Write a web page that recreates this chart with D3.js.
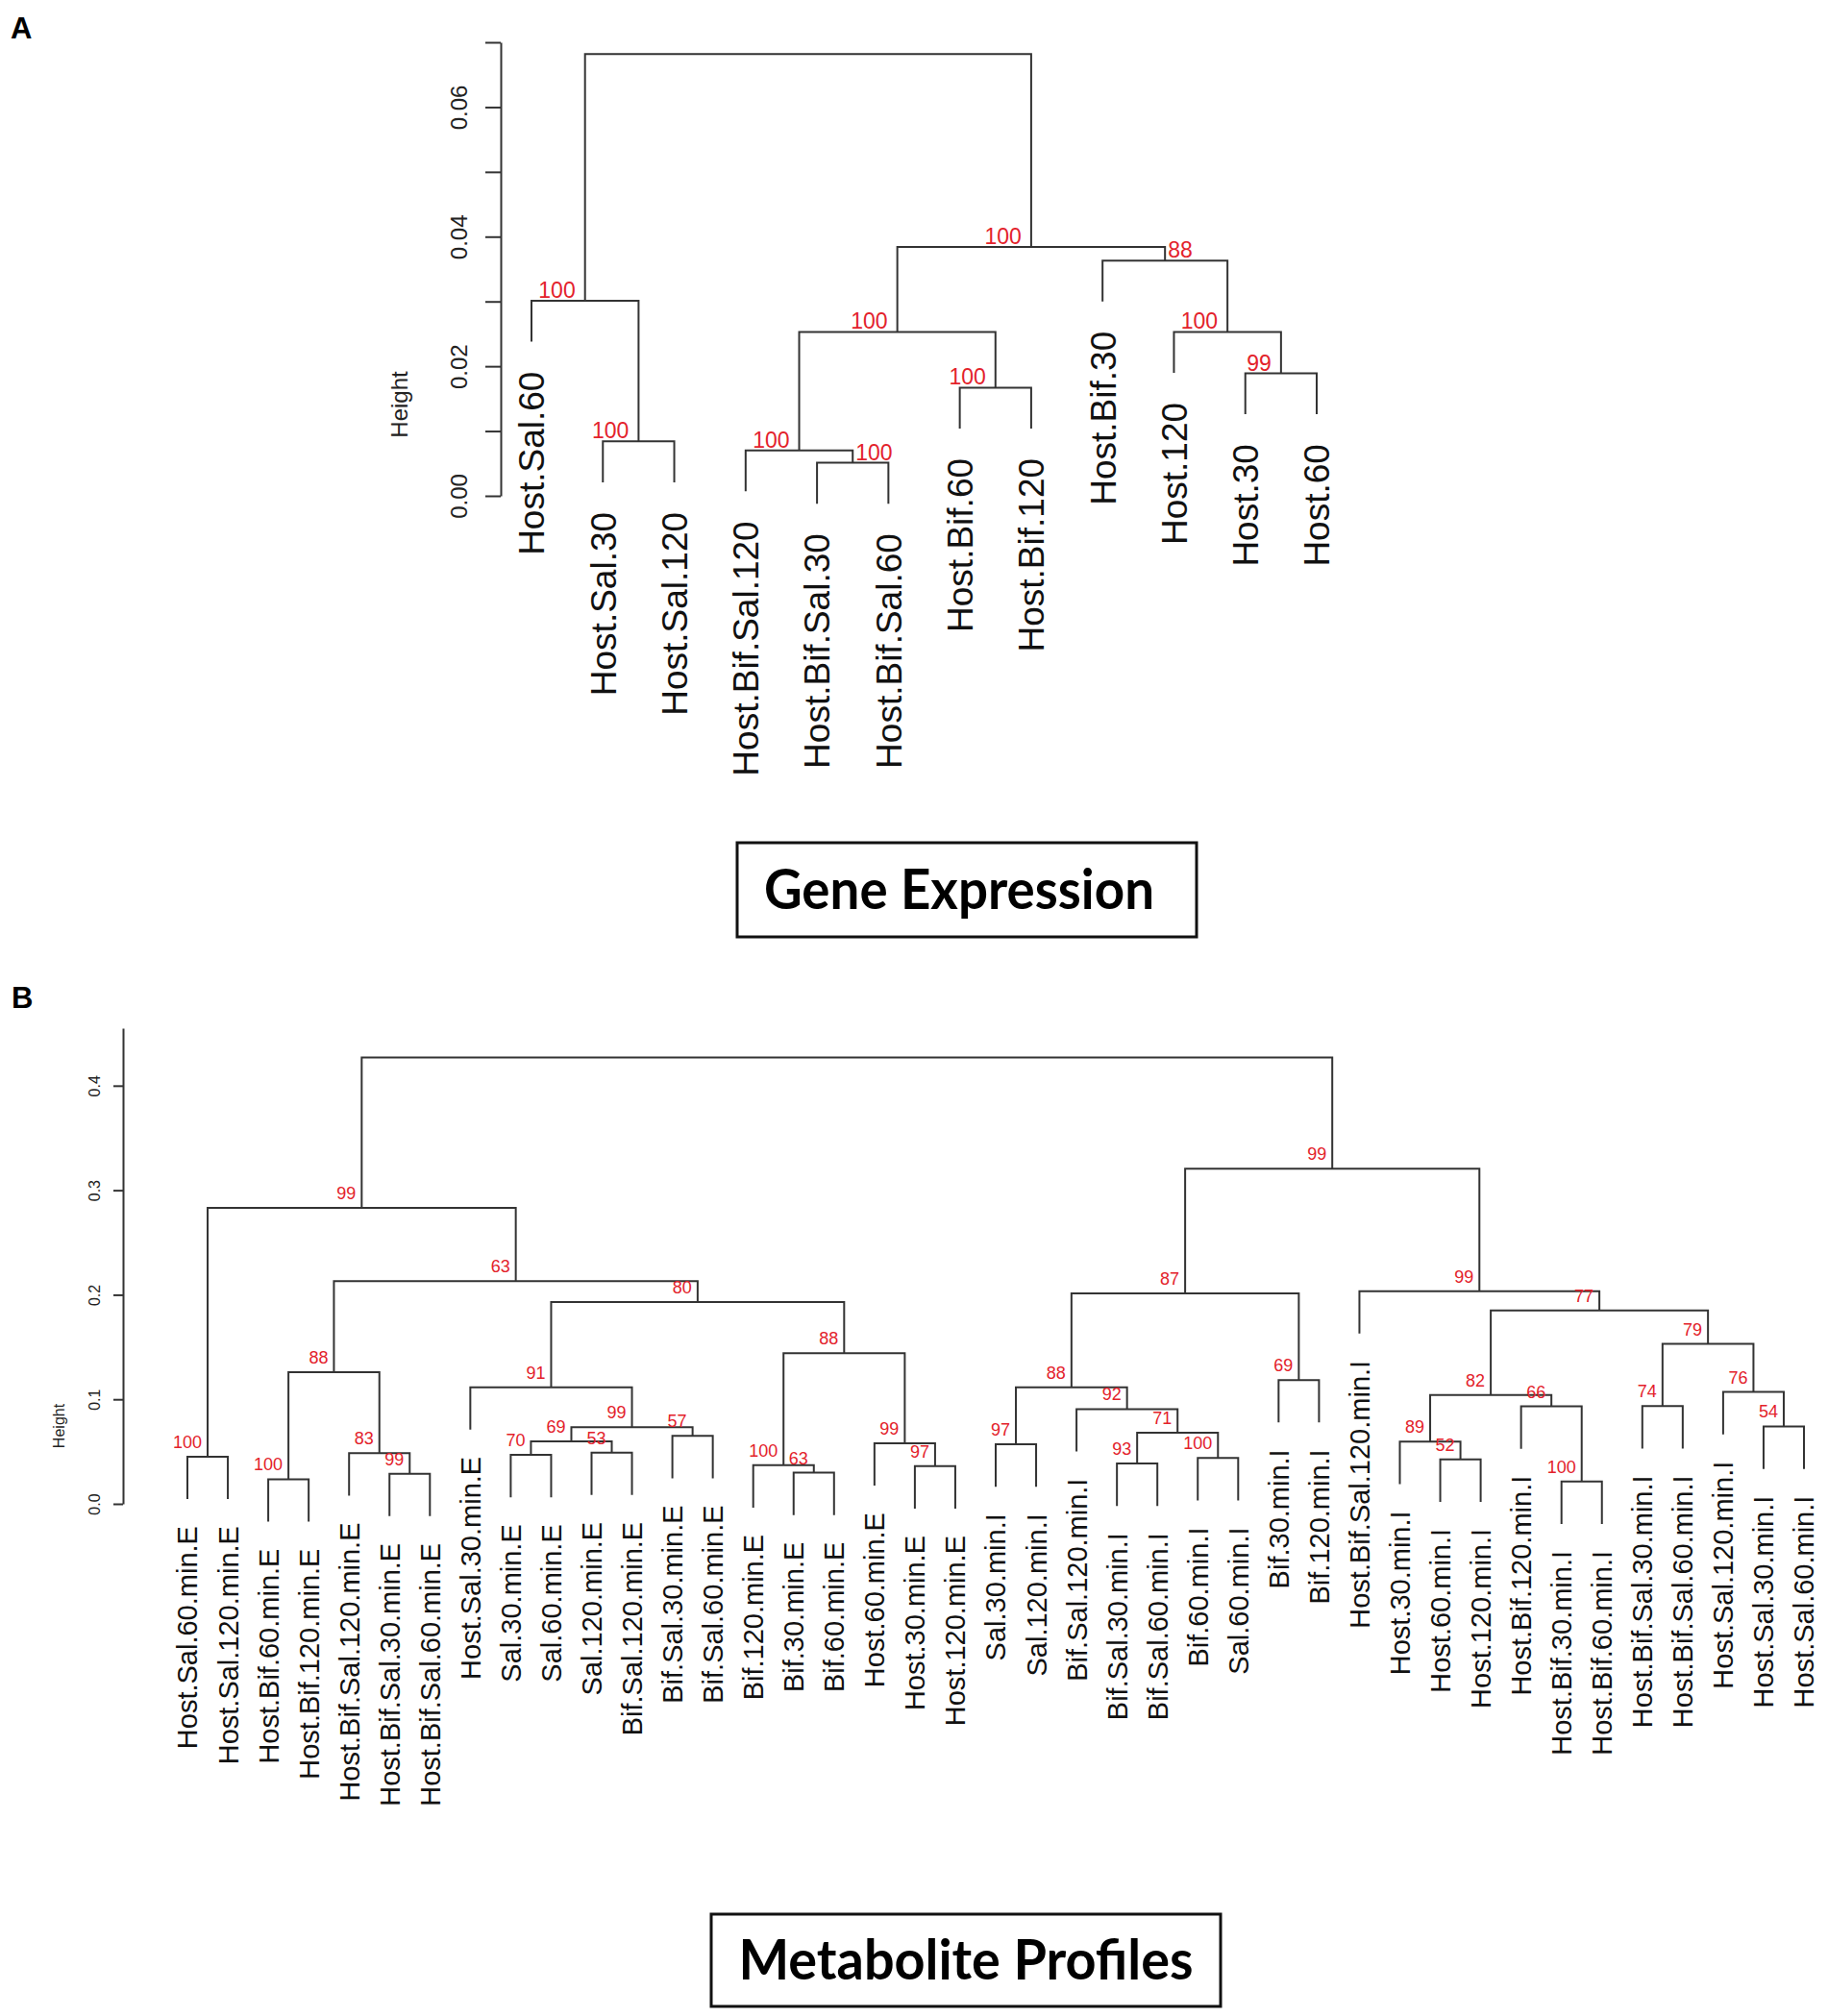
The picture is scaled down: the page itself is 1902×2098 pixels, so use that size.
<!DOCTYPE html>
<html>
<head>
<meta charset="utf-8">
<script src="https://cdn.jsdelivr.net/npm/d3@7"></script>
<style>
  body { margin: 0; background: #fff; }
  text { font-family: "Liberation Sans", Arial, sans-serif; }
</style>
</head>
<body>
<svg id="chart" width="1902" height="2098"></svg>
<script>
// painel A - expressao genica (folhas na ordem do grafico)
const leavesA = ["Host.Sal.60", "Host.Sal.30", "Host.Sal.120", "Host.Bif.Sal.120", "Host.Bif.Sal.30",
  "Host.Bif.Sal.60", "Host.Bif.60", "Host.Bif.120", "Host.Bif.30", "Host.120", "Host.30", "Host.60"];
// merge no estilo do hclust: negativo = folha, positivo = linha anterior
const mergeA = [[-5, -6], [-4, 1], [-2, -3], [-7, -8], [-11, -12], [2, 4], [-10, 5], [-1, 3], [-9, 7], [6, 9], [8, 10]];
const heightA = [0.0051, 0.0070, 0.0084, 0.0167, 0.0189, 0.0253, 0.0253, 0.0301, 0.0363, 0.0384, 0.0682];
const bootA = [100, 100, 100, 100, 99, 100, 100, 100, 88, 100, null];
const ticksA = [0, 0.01, 0.02, 0.03, 0.04, 0.05, 0.06, 0.07];
const tickLabelsA = ["0.00", "", "0.02", "", "0.04", "", "0.06", ""];

// painel B - perfis de metabolitos
const leavesB = ["Host.Sal.60.min.E", "Host.Sal.120.min.E", "Host.Bif.60.min.E", "Host.Bif.120.min.E",
  "Host.Bif.Sal.120.min.E", "Host.Bif.Sal.30.min.E", "Host.Bif.Sal.60.min.E", "Host.Sal.30.min.E",
  "Sal.30.min.E", "Sal.60.min.E", "Sal.120.min.E", "Bif.Sal.120.min.E", "Bif.Sal.30.min.E", "Bif.Sal.60.min.E",
  "Bif.120.min.E", "Bif.30.min.E", "Bif.60.min.E", "Host.60.min.E", "Host.30.min.E", "Host.120.min.E",
  "Sal.30.min.I", "Sal.120.min.I", "Bif.Sal.120.min.I", "Bif.Sal.30.min.I", "Bif.Sal.60.min.I", "Bif.60.min.I",
  "Sal.60.min.I", "Bif.30.min.I", "Bif.120.min.I", "Host.Bif.Sal.120.min.I", "Host.30.min.I", "Host.60.min.I",
  "Host.120.min.I", "Host.Bif.120.min.I", "Host.Bif.30.min.I", "Host.Bif.60.min.I", "Host.Bif.Sal.30.min.I",
  "Host.Bif.Sal.60.min.I", "Host.Sal.120.min.I", "Host.Sal.30.min.I", "Host.Sal.60.min.I"];
const mergeB = [[-35, -36], [-3, -4], [-6, -7], [-16, -17], [-19, -20], [-15, 4], [-24, -25], [-32, -33],
  [-26, -27], [-1, -2], [-9, -10], [-5, 3], [-11, -12], [-21, -22], [-18, 5], [-31, 8], [11, 13], [-13, -14],
  [7, 9], [17, 18], [-40, -41], [-23, 19], [-34, 1], [-37, -38], [16, 23], [-39, 21], [-8, 20], [14, 22],
  [-28, -29], [2, 12], [6, 15], [24, 26], [25, 32], [27, 31], [28, 29], [-30, 33], [30, 34], [10, 37],
  [35, 36], [38, 39]];
const heightB = [0.0213, 0.0235, 0.0288, 0.0298, 0.0360, 0.0370, 0.0386, 0.0425, 0.0438, 0.0451, 0.0468,
  0.0484, 0.0490, 0.0569, 0.0580, 0.0595, 0.0598, 0.0650, 0.0680, 0.0733, 0.0740, 0.0906, 0.0932, 0.0935,
  0.1040, 0.1070, 0.1115, 0.1115, 0.1184, 0.1260, 0.1440, 0.1530, 0.1850, 0.1930, 0.2014, 0.2034, 0.2130,
  0.2830, 0.3205, 0.4270];
const bootB = [100, 100, 99, 63, 97, 100, 93, 52, 100, 100, 70, 83, 53, 97, 99, 89, 69, 57, 71, 99, 54, 92,
  66, 74, 82, 76, 91, 88, 69, 88, 88, 79, 77, 80, 87, 99, 63, 99, 99, null];
const ticksB = [0, 0.1, 0.2, 0.3, 0.4];
const tickLabelsB = ["0.0", "0.1", "0.2", "0.3", "0.4"];

const svg = d3.select('#chart');
const lineColor = '#333';
const red = '#e3222b';

function drawTree(o) { // desenha um dendrograma no estilo do plot.hclust do R
  const g = svg.append('g');
  const x = d3.scalePoint().domain(o.leaves).range(o.xRange);
  const y = d3.scaleLinear().domain(o.domain).range(o.yRange);
  const hang = 0.1 * (d3.max(o.height) - d3.min(o.height));

  const nodeX = [];
  const posX = c => c < 0 ? x(o.leaves[-c - 1]) : nodeX[c - 1];
  o.merge.forEach((m, i) => { nodeX[i] = (posX(m[0]) + posX(m[1])) / 2; });
  const topY = (c, i) => c < 0 ? y(o.height[i] - hang) : y(o.height[c - 1]);

  const leafEnd = [];
  o.merge.forEach((m, i) => m.forEach(c => { if (c < 0) leafEnd[-c - 1] = o.height[i] - hang; }));

  g.selectAll('path.branch')
    .data(o.merge)
    .join('path')
    .attr('class', 'branch')
    .attr('fill', 'none')
    .attr('stroke', lineColor)
    .attr('stroke-width', 2)
    .attr('d', (m, i) => `M${posX(m[0])},${topY(m[0], i)}V${y(o.height[i])}H${posX(m[1])}V${topY(m[1], i)}`);

  g.selectAll('text.leaf')
    .data(o.leaves)
    .join('text')
    .attr('class', 'leaf')
    .attr('transform', (d, i) => `translate(${x(d)},${y(leafEnd[i]) + o.labelGap}) rotate(-90)`)
    .attr('text-anchor', 'end')
    .attr('dy', '0.36em')
    .attr('fill', '#111')
    .style('font-size', o.labelSize + 'px')
    .text(d => d);

  const withBoot = o.merge.map((m, i) => i).filter(i => o.boot[i] != null);
  g.selectAll('text.boot')
    .data(withBoot)
    .join('text')
    .attr('class', 'boot')
    .attr('x', i => o.rightSide.includes(i + 1) ? nodeX[i] + 3 : nodeX[i] - o.bootDx)
    .attr('y', i => y(o.height[i]) - o.bootDy)
    .attr('text-anchor', i => o.rightSide.includes(i + 1) ? 'start' : 'end')
    .attr('fill', red)
    .style('font-size', o.bootSize + 'px')
    .text(i => o.boot[i]);

  const axis = d3.axisLeft(y)
    .tickValues(o.ticks)
    .tickSize(o.tickLen)
    .tickSizeOuter(0)
    .tickFormat((d, i) => o.tickLabels[i]);
  const ax = g.append('g')
    .attr('transform', `translate(${o.axisX},0)`)
    .call(axis);
  ax.select('.domain').attr('stroke', lineColor).attr('stroke-width', 2);
  ax.selectAll('.tick line').attr('stroke', lineColor).attr('stroke-width', 2);
  ax.selectAll('.tick text')
    .attr('x', 0)
    .attr('dy', '0.36em')
    .attr('text-anchor', 'middle')
    .attr('transform', `translate(${-o.tickTextOff},0) rotate(-90)`)
    .attr('fill', '#222')
    .style('font-family', '"Liberation Sans", Arial, sans-serif')
    .style('font-size', o.tickSize + 'px');

  g.append('text')
    .attr('transform', `translate(${o.yTitle[0]},${o.yTitle[1]}) rotate(-90)`)
    .attr('text-anchor', 'middle')
    .attr('dy', '0.36em')
    .attr('fill', '#222')
    .style('font-size', o.tickSize + 'px')
    .text('Height');
}

drawTree({
  leaves: leavesA, merge: mergeA, height: heightA, boot: bootA,
  ticks: ticksA, tickLabels: tickLabelsA,
  xRange: [553, 1370], domain: [0, 0.07], yRange: [516, 44],
  axisX: 521, tickLen: 16, tickTextOff: 44, tickSize: 24, yTitle: [415, 421],
  labelSize: 37, labelGap: 31, bootSize: 23, bootDx: 10, bootDy: 3, rightSide: [1, 9]
});

drawTree({
  leaves: leavesB, merge: mergeB, height: heightB, boot: bootB,
  ticks: ticksB, tickLabels: tickLabelsB,
  xRange: [195, 1877], domain: [0, 0.455], yRange: [1565, 1070],
  axisX: 128, tickLen: 10, tickTextOff: 30, tickSize: 16, yTitle: [61, 1484],
  labelSize: 29, labelGap: 28, bootSize: 18, bootDx: 6, bootDy: 9, rightSide: []
});

// letras dos paineis
svg.append('text').attr('x', 11).attr('y', 40)
  .style('font-size', '31px').style('font-weight', 'bold').text('A');
svg.append('text').attr('x', 12).attr('y', 1049)
  .style('font-size', '31px').style('font-weight', 'bold').text('B');

// caixas de titulo
function titleBox(x, y, w, h, cx, base, len, label) {
  svg.append('rect').attr('x', x).attr('y', y).attr('width', w).attr('height', h)
    .attr('fill', 'none').attr('stroke', '#111').attr('stroke-width', 3);
  svg.append('text').attr('x', cx).attr('y', base)
    .attr('text-anchor', 'middle')
    .attr('textLength', len).attr('lengthAdjust', 'spacingAndGlyphs')
    .style('font-family', 'Lato, "Open Sans", sans-serif')
    .style('font-weight', 'bold').style('font-size', '57px')
    .text(label);
}
titleBox(767, 877, 478, 98, 998, 946, 406, 'Gene Expression');
titleBox(740, 1992, 530, 96, 1005, 2060, 473, 'Metabolite Profiles');
</script>
</body>
</html>
